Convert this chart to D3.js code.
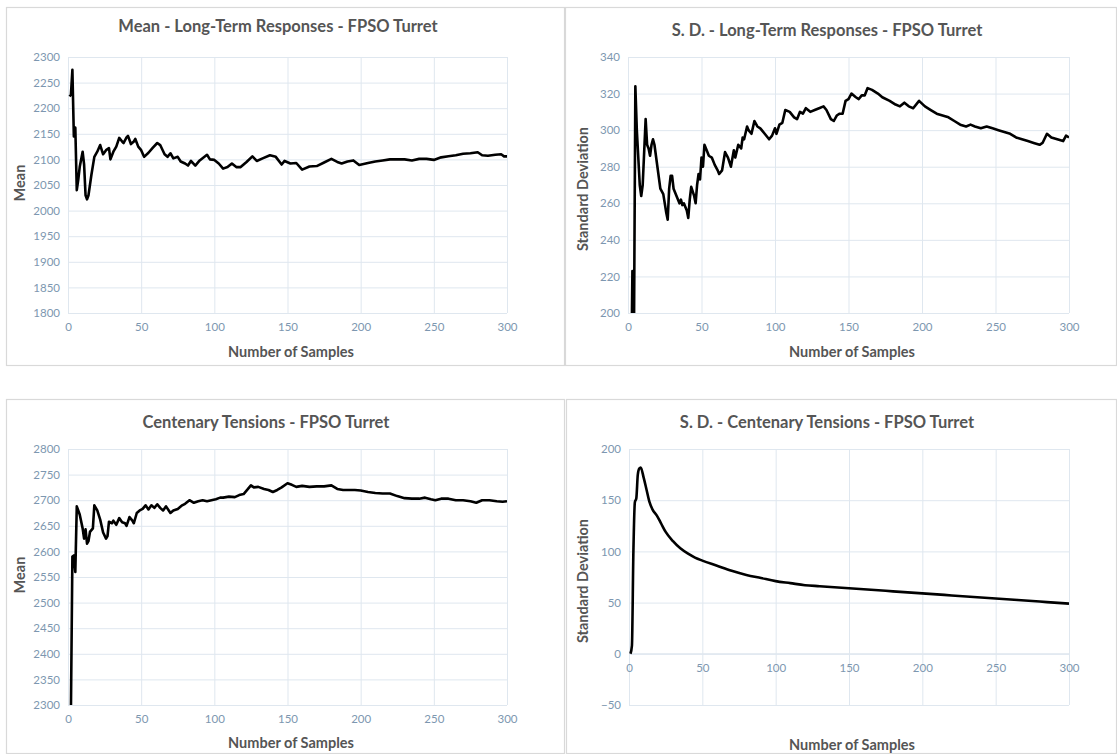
<!DOCTYPE html>
<html>
<head>
<meta charset="utf-8">
<script src="https://cdn.jsdelivr.net/npm/d3@7"></script>
<style>
html,body{margin:0;padding:0;background:#fff;}
svg{display:block;}
text{font-family:Lato, "Open Sans", sans-serif;}
</style>
</head>
<body>
<svg id="chart" width="1117" height="754"></svg>
<script>
// ---------- DATA ----------
const xTicks = [0, 50, 100, 150, 200, 250, 300];

// Panel 1: Mean - Long-Term Responses
const meanLtSamples = [1,2,3,4,5,6,7,8,10,11,12,13,14,16,18,20,22,24,26,28,29,31,33,35,37,38,40,41,43,45,46,48,50,52,55,58,61,63,66,68,70,72,75,77,80,82,84,87,90,95,97,100,103,106,109,112,115,118,122,126,129,133,138,142,146,148,152,156,160,165,170,175,180,184,187,191,195,199,205,210,215,220,230,235,240,245,250,255,260,265,270,275,280,283,287,292,296,298,300];
const meanLtValues = [2223,2226,2275,2145,2162,2040,2060,2085,2115,2090,2030,2022,2030,2070,2105,2115,2128,2110,2118,2122,2100,2115,2125,2142,2135,2132,2143,2146,2130,2135,2140,2125,2118,2105,2113,2123,2132,2128,2110,2105,2112,2102,2105,2096,2092,2088,2097,2088,2098,2109,2100,2099,2092,2082,2085,2092,2085,2085,2095,2106,2097,2102,2108,2105,2090,2097,2092,2093,2080,2086,2087,2094,2101,2095,2092,2096,2098,2089,2093,2096,2098,2100,2100,2098,2101,2101,2099,2104,2106,2108,2111,2112,2114,2108,2107,2109,2110,2106,2106];
const meanLtYTicks = [1800,1850,1900,1950,2000,2050,2100,2150,2200,2250,2300];

// Panel 2: S.D. - Long-Term Responses
const sdLtSamples = [2,3,4,5,6,8,9,10,12,13,14,15,16,17,18,20,22,24,26,27,28,29,30,31,33,35,36,37,38,40,41,42,43,45,46,47,48,49,50,51,52,54,55,57,59,61,62,64,66,68,70,72,73,75,77,78,79,81,82,84,86,88,90,93,96,98,100,101,103,105,107,110,113,115,117,119,121,124,127,130,133,135,138,140,142,144,146,148,150,152,155,157,159,161,163,166,170,173,178,182,185,188,191,194,198,202,206,210,214,218,222,226,230,233,236,240,244,248,252,256,260,264,268,272,276,280,282,285,288,292,296,298,300];
const sdLtValues = [150,223,180,324,300,270,264,270,306,292,290,286,292,295,292,280,268,265,255,251,268,275,275,268,264,260,262,259,260,256,252,262,269,264,260,270,276,273,285,280,292,288,286,285,281,278,276,278,288,285,280,289,285,292,290,296,295,302,300,298,305,302,301,298,295,297,301,298,303,304,311,310,307,306,310,309,312,310,311,312,313,311,306,305,308,309,309,316,317,320,318,317,319,319,323,322,320,318,316,314,313,315,313,312,316,313,311,309,308,307,305,303,302,303,302,301,302,301,300,299,298,296,295,294,293,292,293,298,296,295,294,297,296];
const sdLtYTicks = [200,220,240,260,280,300,320,340];

// Panel 3: Centenary Tensions (mean)
const ctSamples = [1,2,3,4,5,6,8,10,11,12,13,14,15,17,18,20,22,24,26,27,28,30,31,33,35,37,39,40,42,44,45,47,49,51,53,55,57,59,61,63,65,67,70,72,75,78,80,83,86,89,92,95,98,101,104,106,110,114,117,120,123,125,127,130,134,137,140,143,146,150,153,156,160,165,170,175,180,184,188,192,196,200,205,210,215,220,225,230,235,240,244,248,251,255,260,265,270,275,279,283,288,293,297,300];
const ctValues = [2200,2290,2590,2592,2560,2688,2672,2645,2625,2643,2615,2620,2638,2645,2690,2680,2662,2637,2625,2630,2658,2655,2660,2652,2665,2657,2655,2650,2667,2660,2655,2675,2680,2683,2690,2682,2690,2685,2692,2685,2680,2688,2675,2680,2683,2690,2693,2700,2695,2698,2700,2698,2700,2702,2705,2705,2707,2706,2710,2712,2722,2729,2725,2726,2722,2720,2716,2720,2725,2733,2730,2726,2728,2726,2727,2727,2729,2722,2720,2720,2720,2719,2716,2714,2713,2713,2708,2704,2703,2703,2705,2702,2700,2703,2703,2700,2700,2698,2695,2700,2700,2698,2697,2698];
const ctYTicks = [2300,2350,2400,2450,2500,2550,2600,2650,2700,2750,2800];

// Panel 4: S.D. - Centenary Tensions
const sdCtSamples = [1,2,3,4,5,6,7,8,10,12,14,16,19,22,25,30,35,40,45,50,60,70,80,90,100,110,120,130,140,150,160,170,180,190,200,210,220,230,240,250,260,270,280,290,300];
const sdCtValues = [0,8,100,148,152,175,181,182,172,160,148,141,135,127,119,110,103,98,94,91,86,81,77,74,71,69,67,66,65,64,63,62,61,60,59,58,57,56,55,54,53,52,51,50,49];
const sdCtYTicks = [-50,0,50,100,150,200];

// ---------- DRAWING ----------
const svg = d3.select("#chart");
const TITLE = "#555555", TICK = "#7d97b0", GRID = "#dfe7ef", BORDER = "#d9d9d9";
const fmt = d3.format("d");

const panels = [
  {id:"p1", box:[6,7,559,359], plot:[68,507,57,313], title:"Mean - Long-Term Responses - FPSO Turret",
   titleX:278, titleY:32, xt:[291,357], yt:[20,183], yTitle:"Mean",
   xs:meanLtSamples, ys:meanLtValues, yDomain:[1800,2300], yTicks:meanLtYTicks, curve:d3.curveLinear},
  {id:"p2", box:[565,7,552,359], plot:[628,1069,57,313], title:"S. D. - Long-Term Responses - FPSO Turret",
   titleX:827, titleY:36, xt:[852,357], yt:[583,189], yTitle:"Standard Deviation",
   xs:sdLtSamples, ys:sdLtValues, yDomain:[200,340], yTicks:sdLtYTicks, curve:d3.curveLinear},
  {id:"p3", box:[6,399,559,355], plot:[68,507,449,705], title:"Centenary Tensions - FPSO Turret",
   titleX:266, titleY:428, xt:[291,748], yt:[20,575], yTitle:"Mean",
   xs:ctSamples, ys:ctValues, yDomain:[2300,2800], yTicks:ctYTicks, curve:d3.curveLinear},
  {id:"p4", box:[566,399,551,355], plot:[629,1069,449,705], title:"S. D. - Centenary Tensions - FPSO Turret",
   titleX:827, titleY:428, xt:[852,750], yt:[583,581], yTitle:"Standard Deviation",
   xs:sdCtSamples, ys:sdCtValues, yDomain:[-50,200], yTicks:sdCtYTicks, curve:d3.curveMonotoneX, zeroAxis:true}
];

panels.forEach(p => {
  const [bx,by,bw,bh] = p.box;
  svg.append("rect").attr("x",bx+0.5).attr("y",by+0.5).attr("width",bw-1).attr("height",bh-1)
    .attr("fill","#fff").attr("stroke",BORDER).attr("stroke-width",1.2);

  const [x0,x1,y0,y1] = p.plot;
  const x = d3.scaleLinear().domain([0,300]).range([x0,x1]);
  const y = d3.scaleLinear().domain(p.yDomain).range([y1,y0]);

  const g = svg.append("g");
  // horizontal grid
  g.append("g").attr("transform",`translate(${x0},0)`)
    .call(d3.axisLeft(y).tickValues(p.yTicks).tickSize(-(x1-x0)).tickFormat(""))
    .call(a => a.select(".domain").remove())
    .call(a => a.selectAll("line").attr("stroke",GRID).attr("stroke-width",1));
  // vertical grid
  g.append("g").attr("transform",`translate(0,${y1})`)
    .call(d3.axisBottom(x).tickValues(xTicks).tickSize(-(y1-y0)).tickFormat(""))
    .call(a => a.select(".domain").remove())
    .call(a => a.selectAll("line").attr("stroke",GRID).attr("stroke-width",1));

  // y tick labels
  const ya = g.append("g").attr("transform",`translate(${x0-8},0)`)
    .call(d3.axisLeft(y).tickValues(p.yTicks).tickSize(0).tickPadding(0).tickFormat(fmt));
  ya.select(".domain").remove();
  ya.selectAll("text").attr("fill",TICK).style("font-size","11.5px").style("font-family","Lato, sans-serif");

  // x tick labels
  const xBase = p.zeroAxis ? y(0) : y1;
  if (p.zeroAxis) {
    g.append("line").attr("x1",x0).attr("x2",x1).attr("y1",y(0)).attr("y2",y(0))
      .attr("stroke",GRID).attr("stroke-width",1.2);
  }
  const xa = g.append("g").attr("transform",`translate(0,${xBase+10})`)
    .call(d3.axisBottom(x).tickValues(xTicks).tickSize(0).tickPadding(0).tickFormat(fmt));
  xa.select(".domain").remove();
  xa.selectAll("text").attr("fill",TICK).style("font-size","11.5px").style("font-family","Lato, sans-serif");

  // clip
  svg.append("clipPath").attr("id","clip-"+p.id).append("rect")
    .attr("x",x0).attr("y",y0).attr("width",x1-x0).attr("height",y1-y0);

  const pts = p.xs.map((s,i)=>[s,p.ys[i]]);
  g.append("path").datum(pts)
    .attr("clip-path",`url(#clip-${p.id})`)
    .attr("fill","none").attr("stroke","#000").attr("stroke-width",2.6)
    .attr("stroke-linejoin","round")
    .attr("d", d3.line().x(d=>x(d[0])).y(d=>y(d[1])).curve(p.curve));

  // titles
  svg.append("text").attr("x",p.titleX).attr("y",p.titleY).attr("text-anchor","middle")
    .attr("fill",TITLE).style("font-size","16.5px").style("font-weight","bold").text(p.title);
  svg.append("text").attr("x",p.xt[0]).attr("y",p.xt[1]).attr("text-anchor","middle")
    .attr("fill",TITLE).style("font-size","14.5px").style("font-weight","bold").text("Number of Samples");
  svg.append("text").attr("transform",`translate(${p.yt[0]+5},${p.yt[1]}) rotate(-90)`).attr("text-anchor","middle")
    .attr("fill",TITLE).style("font-size","14.5px").style("font-weight","bold").text(p.yTitle);
});
</script>
</body>
</html>
